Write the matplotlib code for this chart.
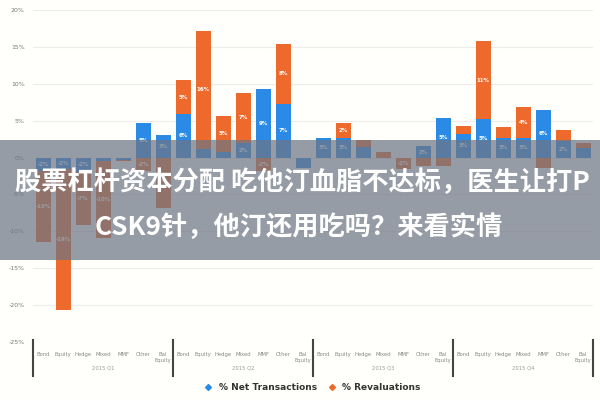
import numpy as np
import matplotlib.pyplot as plt
from matplotlib.patches import Rectangle
from matplotlib.lines import Line2D
from matplotlib.transforms import blended_transform_factory

# fund types repeated per quarter
categories = ['Bond', 'Equity', 'Hedge', 'Mixed', 'MMF', 'Other', 'Bal\nEquity']
groups = ['2015 Q1', '2015 Q2', '2015 Q3', '2015 Q4']

# % Net Transactions (blue) and % Revaluations (orange), one value per bar
net_trans = [-1.8, -1.5, -2.0, -0.5, -0.3, 4.7, 3.0,
             5.9, 1.2, 0.8, 2.0, 9.3, 7.3, -1.4,
             2.7, 2.6, 1.4, 0.0, 0.0, 1.5, 5.4,
             3.2, 5.2, 2.7, 2.6, 6.4, 2.3, 1.3]
revals = [-9.7, -19.2, -7.2, -10.4, -0.2, -1.8, -6.8,
          4.6, 16.0, 4.9, 6.8, -1.8, 8.1, 0.0,
          0.0, 2.1, 1.0, 0.8, -1.5, -1.1, -1.1,
          1.1, 10.6, 1.4, 4.3, -1.4, 1.4, 0.7]

yticks = [20, 15, 10, 5, 0, -5, -10, -15, -20, -25]

blue = '#2a8ae6'
orange = '#ee6a2c'

fig = plt.figure(figsize=(6, 4), dpi=100)
fig.patch.set_facecolor('#fffffb')
ax = fig.add_axes([33 / 600, 1 - 342 / 400, 560 / 600, 332 / 400])
ax.set_facecolor('#fffffb')

x = np.arange(len(net_trans))
net = np.array(net_trans)
rev = np.array(revals)
w = 0.75

# stack positives up, negatives down (blue first)
net_bottom = np.zeros(len(x))
rev_bottom = np.where(np.sign(rev) == np.sign(net), net, 0.0)
ax.bar(x, net, w, bottom=net_bottom, color=blue, zorder=3)
ax.bar(x, rev, w, bottom=rev_bottom, color=orange, zorder=3)

for i in range(len(x)):
    for val, bot in ((net[i], net_bottom[i]), (rev[i], rev_bottom[i])):
        if abs(val) >= 1.5:
            ax.text(x[i], bot + val / 2, f'{val:.0f}%', ha='center', va='center',
                    fontsize=4, color='white', fontweight='bold', zorder=4)

ax.set_xlim(-0.5, len(x) - 0.5)
ax.set_ylim(-25, 20)
ax.set_yticks(yticks)
ax.set_yticklabels([f'{t}%' for t in yticks], fontsize=4.5, color='#777777')
ax.tick_params(axis='y', length=0, pad=6)
ax.set_xticks([])
ax.grid(axis='y', color='#ececec', linewidth=0.8, zorder=0)
for s in ax.spines.values():
    s.set_visible(False)

# category and quarter labels under the plot
tr = blended_transform_factory(ax.transData, fig.transFigure)
n = len(categories)
for g, name in enumerate(groups):
    for j, c in enumerate(categories):
        ax.text(g * n + j, 1 - 352 / 400, c, transform=tr, ha='center', va='top',
                fontsize=3.8, color='#888888', linespacing=1.2)
    ax.text(g * n + (n - 1) / 2, 1 - 366 / 400, name, transform=tr, ha='center',
            va='top', fontsize=3.8, color='#999999')
for g in range(len(groups) + 1):
    ax.add_line(Line2D([g * n - 0.5] * 2, [1 - 340 / 400, 1 - 376 / 400], transform=tr,
                       color='#444444', linewidth=1.5, clip_on=False))

handles = [Line2D([], [], marker='D', linestyle='none', color=blue, markersize=3),
           Line2D([], [], marker='D', linestyle='none', color=orange, markersize=3)]
fig.legend(handles, ['% Net Transactions', '% Revaluations'], loc='center',
           bbox_to_anchor=(310 / 600, 1 - 388 / 400), ncol=2, frameon=False,
           prop={'size': 6.5, 'weight': 'bold'}, handletextpad=0.2, columnspacing=0.6,
           labelcolor='#333333')

# title banner overlay
fig.patches.append(Rectangle((0, 1 - 260 / 400), 1, 120 / 400, transform=fig.transFigure,
                             facecolor='#6e7684', alpha=0.72, zorder=10))
cjk = ['Noto Sans CJK SC', 'DejaVu Sans']
fig.text(302 / 600, 1 - 183 / 400, '股票杠杆资本分配 吃他汀血脂不达标，医生让打P',
         ha='center', va='center', fontsize=18.9, color='white', fontweight='bold',
         family=cjk, zorder=11)
fig.text(299 / 600, 1 - 228 / 400, 'CSK9针，他汀还用吃吗？来看实情',
         ha='center', va='center', fontsize=18.9, color='white', fontweight='bold',
         family=cjk, zorder=11)

fig.savefig('out.png', dpi=100, facecolor=fig.get_facecolor())
